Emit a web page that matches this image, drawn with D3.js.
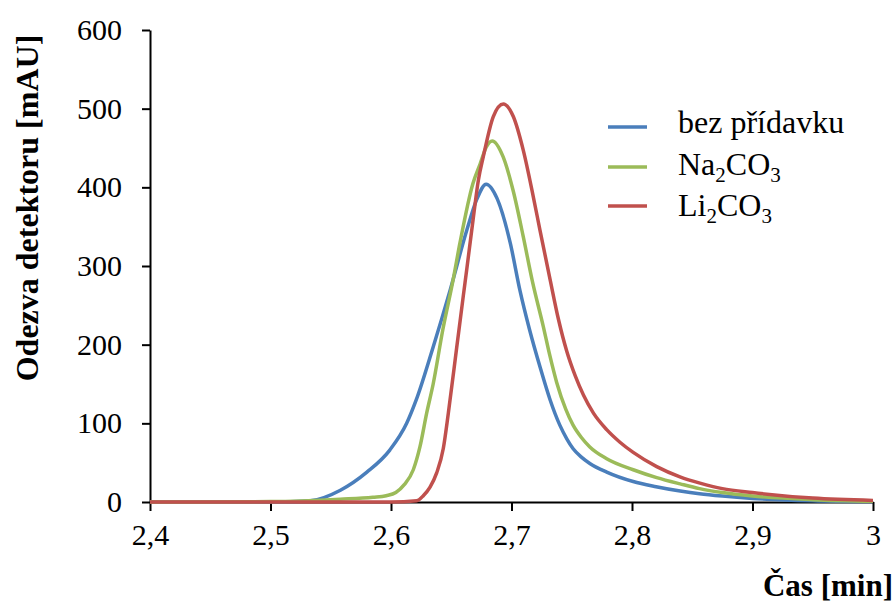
<!DOCTYPE html>
<html><head><meta charset="utf-8">
<script src="https://cdn.jsdelivr.net/npm/d3@7"></script>
<style>body{margin:0;background:#fff}svg{display:block}text{font-family:"Liberation Serif","Times New Roman",serif}</style>
</head><body><svg id="c" width="894" height="604"></svg>
<script>
const xTicks = [2.4, 2.5, 2.6, 2.7, 2.8, 2.9, 3.0];
const xTickLabels = ["2,4", "2,5", "2,6", "2,7", "2,8", "2,9", "3"];
const yTicks = [0, 100, 200, 300, 400, 500, 600];
const seriesNames = ["bez přídavku", "Na2CO3", "Li2CO3"];
const seriesColors = ["#4a7ebb", "#9bbb59", "#c0504d"];

const bezPridavku = [
  [2.40,0],[2.50,0],[2.516,0.3],[2.533,1.5],[2.558,15],[2.580,38],[2.599,66],[2.613,100],
  [2.621,130],[2.635,197],[2.649,269],[2.663,346],[2.671,384],[2.679,404],[2.688,386],
  [2.699,329],[2.707,269],[2.715,219],[2.724,170],[2.732,130],[2.740,98],[2.746,80],
  [2.751,68],[2.758,57],[2.765,49],[2.779,38],[2.801,26],[2.820,19.5],[2.840,14],
  [2.856,10.5],[2.875,7.5],[2.900,4.5],[2.950,1.5],[3.000,0.5]
];
const na2co3 = [
  [2.40,0],[2.50,0.5],[2.558,3.5],[2.585,6],[2.596,8],[2.604,12],[2.611,22],[2.6185,41],
  [2.624,70],[2.6296,113],[2.635,150],[2.643,219],[2.6515,282],[2.6573,330],[2.668,405],
  [2.674,430],[2.679,451],[2.684,459],[2.693,439],[2.7015,395],[2.7098,337],[2.7174,280],
  [2.7264,223],[2.732,185],[2.7375,152],[2.745,118],[2.751,98],[2.758,82],[2.765,70],
  [2.779,55],[2.801,41],[2.8205,31],[2.840,23],[2.856,17],[2.875,12],[2.900,7.6],
  [2.950,3],[3.000,1]
];
const li2co3 = [
  [2.40,0],[2.60,0],[2.6213,1.5],[2.6268,8],[2.6324,19],[2.6379,37],[2.6434,68],[2.6476,113],
  [2.6545,196],[2.660,262],[2.6628,295],[2.6683,361],[2.6725,409],[2.6766,439],[2.6849,490],
  [2.6932,506],[2.7015,490],[2.7098,447],[2.7181,388],[2.7237,345],[2.732,283],[2.739,232],
  [2.7458,192],[2.753,160],[2.7597,136],[2.768,113],[2.779,92],[2.790,76],[2.801,63],
  [2.8205,45],[2.8398,32],[2.8564,24],[2.875,17],[2.900,12],[2.950,5],[3.000,2]
];
const allSeries = [bezPridavku, na2co3, li2co3];

const svg = d3.select("#c");
const x = d3.scaleLinear().domain([2.4, 3.0]).range([150, 873]);
const y = d3.scaleLinear().domain([0, 600]).range([502, 30]);

const gx = svg.append("g").attr("transform","translate(0,502)")
  .call(d3.axisBottom(x).tickValues(xTicks).tickFormat((d,i)=>xTickLabels[i]).tickSize(9).tickSizeOuter(0).tickPadding(13));
const gy = svg.append("g").attr("transform","translate(150,0)")
  .call(d3.axisLeft(y).tickValues(yTicks).tickSize(8).tickSizeOuter(0).tickPadding(20));
[gx, gy].forEach(g => {
  g.select(".domain").attr("stroke","#000").attr("stroke-width",2);
  g.selectAll(".tick line").attr("stroke","#000").attr("stroke-width",2);
  g.selectAll(".tick text").attr("fill","#000").style("font-size","30px").style("font-family","'Liberation Serif','Times New Roman',serif");
});

const line = d3.line().x(d=>x(d[0])).y(d=>y(d[1])).curve(d3.curveMonotoneX);
allSeries.forEach((s,i)=>{
  svg.append("path").datum(s).attr("d",line).attr("fill","none")
    .attr("stroke",seriesColors[i]).attr("stroke-width",3.5).attr("stroke-linejoin","round");
});

svg.append("text").attr("transform","translate(38,208) rotate(-90)").attr("text-anchor","middle")
  .style("font-size","32px").style("font-weight","bold").text("Odezva detektoru [mAU]");
svg.append("text").attr("x",893).attr("y",596).attr("text-anchor","end")
  .style("font-size","31px").style("font-weight","bold").text("Čas [min]");

const leg = svg.append("g");
const legY = [127, 167, 206];
const legBase = [133, 175, 216];
seriesNames.forEach((n,i)=>{
  leg.append("line").attr("x1",608).attr("x2",647).attr("y1",legY[i]).attr("y2",legY[i])
    .attr("stroke",seriesColors[i]).attr("stroke-width",3.5);
  const t = leg.append("text").attr("x",678).attr("y",legBase[i]).style("font-size","32px");
  const m = n.match(/^([A-Za-z]+)(\d)([A-Za-z]+)(\d)$/);
  if (m) {
    t.append("tspan").text(m[1]);
    t.append("tspan").attr("dy",7).style("font-size","21px").text(m[2]);
    t.append("tspan").attr("dy",-7).text(m[3]);
    t.append("tspan").attr("dy",7).style("font-size","21px").text(m[4]);
  } else t.text(n);
});
</script></body></html>
